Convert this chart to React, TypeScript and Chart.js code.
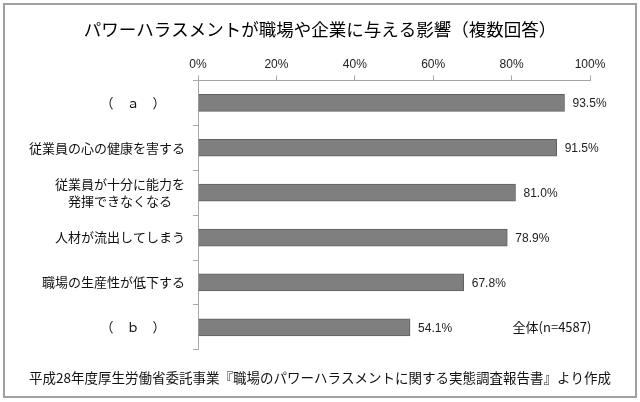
import React, { useEffect, useRef } from "react";
import { Chart, registerables } from "chart.js";

Chart.register(...registerables);

const titleText = "パワーハラスメントが職場や企業に与える影響（複数回答）";
const footnoteText =
  "平成28年度厚生労働省委託事業『職場のパワーハラスメントに関する実態調査報告書』より作成";
const sampleNote = "全体(n=4587)";

const categories: (string | string[])[] = [
  "（　ａ　）　　",
  "従業員の心の健康を害する",
  ["従業員が十分に能力を", "発揮できなくなる　"],
  "人材が流出してしまう",
  "職場の生産性が低下する",
  "（　ｂ　）　　",
];
const values = [93.5, 91.5, 81.0, 78.9, 67.8, 54.1];
const xTickValues = [0, 20, 40, 60, 80, 100];

const CJK = "'Noto Sans CJK JP', 'Noto Sans', sans-serif";
const LATIN = "'Liberation Sans', Arial, sans-serif";

const valueLabelPlugin = {
  id: "valueLabels",
  afterDatasetsDraw(chart: any) {
    const ctx = chart.ctx;
    const meta = chart.getDatasetMeta(0);
    ctx.save();
    ctx.font = `12px ${LATIN}`;
    ctx.fillStyle = "#222";
    ctx.textAlign = "left";
    ctx.textBaseline = "middle";
    meta.data.forEach((bar: any, i: number) => {
      ctx.fillText(values[i].toFixed(1) + "%", bar.x + 8, bar.y + 1);
    });
    const yLast = chart.scales.y.getPixelForValue(categories.length - 1);
    ctx.font = `13px ${CJK}`;
    ctx.textAlign = "center";
    ctx.fillStyle = "#111";
    ctx.fillText(sampleNote, chart.chartArea.right - 38, yLast);
    ctx.restore();
  },
};

export default function App() {
  const ref = useRef<HTMLCanvasElement | null>(null);
  useEffect(() => {
    if (!ref.current) return;
    const chart = new Chart(ref.current, {
      type: "bar",
      data: {
        labels: categories,
        datasets: [
          {
            data: values,
            backgroundColor: "#7f7f7f",
            borderColor: "#606060",
            borderWidth: 1,
            barThickness: 17,
          },
        ],
      },
      options: {
        indexAxis: "y",
        animation: false,
        responsive: false,
        layout: { padding: 0 },
        plugins: {
          legend: { display: false },
          tooltip: { enabled: false },
          title: {
            display: true,
            text: titleText,
            color: "#000",
            font: { family: CJK, size: 17.5, weight: "normal" },
            padding: { top: 19, bottom: 13 },
          },
          subtitle: {
            display: true,
            position: "bottom",
            text: footnoteText,
            color: "#111",
            font: { family: CJK, size: 13.5, weight: "normal" },
            padding: { top: 20, bottom: 16 },
          },
        },
        scales: {
          x: {
            position: "top",
            min: 0,
            max: 100,
            afterBuildTicks: (s: any) => {
              s.ticks = xTickValues.map((v) => ({ value: v }));
            },
            ticks: {
              callback: (v: any) => v + "%",
              color: "#222",
              font: { family: LATIN, size: 12 },
              padding: 4,
            },
            grid: {
              display: true,
              drawOnChartArea: false,
              drawTicks: true,
              tickLength: 5,
              color: "#a6a6a6",
            },
            border: { display: true, color: "#a6a6a6" },
          },
          y: {
            afterFit: (s: any) => {
              s.width = 198;
            },
            ticks: {
              color: "#111",
              font: { family: CJK, size: 13, lineHeight: 1.35 },
              padding: 8,
            },
            grid: {
              display: true,
              drawOnChartArea: false,
              drawTicks: true,
              tickLength: 5,
              color: "#a6a6a6",
              offset: true,
            },
            border: { display: true, color: "#a6a6a6" },
          },
          ySpacer: {
            type: "category",
            position: "right",
            labels: categories.map(() => ""),
            afterFit: (s: any) => {
              s.width = 50;
            },
            ticks: { display: false },
            grid: { display: false },
            border: { display: false },
          },
        },
      },
      plugins: [valueLabelPlugin],
    } as any);
    return () => chart.destroy();
  }, []);

  return (
    <div
      style={{
        position: "fixed",
        left: 0,
        top: 0,
        width: 640,
        height: 402,
        background: "#fff",
      }}
    >
      <canvas ref={ref} width={640} height={402} style={{ display: "block" }} />
      <div
        style={{
          position: "absolute",
          left: 3,
          top: 3,
          width: 630,
          height: 391,
          border: "2px solid #a0a0a0",
          pointerEvents: "none",
        }}
      />
    </div>
  );
}
